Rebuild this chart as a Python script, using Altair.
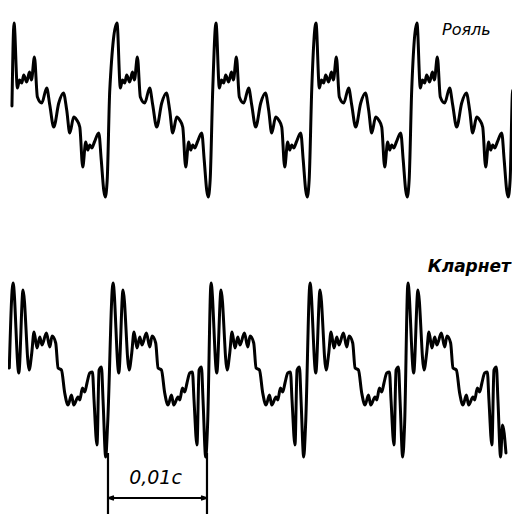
import altair as alt
import pandas as pd

# ---- Рояль (piano): one period (ms after the peak, amplitude)
piano_t = [0, 0.34, 0.55, 0.78, 0.98, 1.28, 1.56, 1.76, 2.06, 2.36, 2.80, 3.30,
           3.61, 4.01, 4.52, 4.99, 5.32, 5.63, 6.03, 6.33, 6.64, 6.94, 7.24, 7.44,
           7.65, 7.85, 8.12, 8.56, 8.81, 9.06, 9.21, 9.41, 9.67]
piano_a = [87, 22, 30, 27, 35, 28, 38, 30, 53, 13, 7, 22,
           5, -17, 7, 17, 0, -23, -7, -10, -17, -57, -32, -40,
           -35, -38, -32, -23, -50, -80, -87, -70, 20]
piano_peaks = [0.61, 11.01, 21.01, 31.11, 41.31]   # ms
piano_first = (0.40, 4)
piano_last = (51.2, 10)

# ---- Кларнет (clarinet): one period
clar_t = [0, 0.58, 1.01, 1.62, 1.89, 2.12, 2.42, 2.70, 2.93, 3.37, 3.71, 3.94,
          4.31, 4.55, 4.89, 5.22, 5.56, 5.90, 6.13, 6.57, 6.74, 7.01, 7.24, 7.47,
          7.75, 8.02, 8.18, 8.48, 8.69, 8.93, 9.09, 9.36, 9.55]
clar_a = [82, -8, 75, -5, 12, 33, 17, 28, 20, 32, 18, 29,
          22, -3, -5, -28, -40, -30, -40, -32, -35, -23, -27, -18,
          -8, -7, -35, -80, -5, -2, -35, -92, -60]
clar_peaks = [0.51, 10.61, 20.51, 30.51, 40.40]    # ms
clar_first = (0.13, -3)
clar_last = (50.3, -88)

# 0,01 s marker
marker_t = [10.1, 20.1]


def build(first, peaks, ts, amps, last):
    rows = [first]
    for p in peaks:
        rows += [(p + t, a) for t, a in zip(ts, amps)]
    rows.append(last)
    return pd.DataFrame({"t": [r[0] for r in rows], "a": [r[1] for r in rows],
                         "i": list(range(len(rows)))})


piano_df = build(piano_first, piano_peaks, piano_t, piano_a, piano_last)
clar_df = build(clar_first, clar_peaks, clar_t, clar_a, clar_last)

xs = alt.Scale(domain=[0, 50.91], nice=False, zero=False)
ys_p = alt.Scale(domain=[-120, 102], nice=False, zero=False)
ys_c = alt.Scale(domain=[-149, 135], nice=False, zero=False)

line_style = dict(color="black", strokeWidth=3, strokeJoin="round",
                  strokeCap="round", clip=True, interpolate="monotone")
text_style = dict(font="DejaVu Sans", fontStyle="italic", color="black")


def wave(df, ys):
    return alt.Chart(df).mark_line(**line_style).encode(
        x=alt.X("t:Q", scale=xs, axis=None),
        y=alt.Y("a:Q", scale=ys, axis=None),
        order="i:Q",
    )


def label(txt, t, a, ys, size, weight="normal", align="center"):
    return alt.Chart(pd.DataFrame({"t": [t], "a": [a], "s": [txt]})).mark_text(
        fontSize=size, fontWeight=weight, align=align, **text_style).encode(
        x=alt.X("t:Q", scale=xs, axis=None),
        y=alt.Y("a:Q", scale=ys, axis=None),
        text="s:N",
    )


top = alt.layer(
    wave(piano_df, ys_p),
    label("Рояль", 46.3, 80, ys_p, 16),
).properties(width=504, height=222)

mk = pd.DataFrame({"t": marker_t, "y1": [-88, -88], "y2": [-149, -149]})
dims = alt.Chart(mk).mark_rule(color="black", strokeWidth=2.2, clip=True).encode(
    x=alt.X("t:Q", scale=xs, axis=None),
    y=alt.Y("y1:Q", scale=ys_c, axis=None),
    y2="y2:Q",
)
arrow_df = pd.DataFrame({"t": [marker_t[0]], "t2": [marker_t[1]], "a": [-133]})
arrow = alt.Chart(arrow_df).mark_rule(color="black", strokeWidth=1.8).encode(
    x=alt.X("t:Q", scale=xs, axis=None), x2="t2:Q",
    y=alt.Y("a:Q", scale=ys_c, axis=None),
)
heads_df = pd.DataFrame({"t": marker_t, "a": [-133, -133], "side": ["l", "r"]})
head_l = alt.Chart(heads_df[heads_df.side == "l"]).mark_point(
    shape="M0,0L2,-0.6M0,0L2,0.6", size=36, filled=False, color="black",
    strokeWidth=1.8, opacity=1).encode(
    x=alt.X("t:Q", scale=xs, axis=None), y=alt.Y("a:Q", scale=ys_c, axis=None))
head_r = alt.Chart(heads_df[heads_df.side == "r"]).mark_point(
    shape="M0,0L-2,-0.6M0,0L-2,0.6", size=36, filled=False, color="black",
    strokeWidth=1.8, opacity=1).encode(
    x=alt.X("t:Q", scale=xs, axis=None), y=alt.Y("a:Q", scale=ys_c, axis=None))

bottom = alt.layer(
    wave(clar_df, ys_c),
    label("Кларнет", 50.8, 98, ys_c, 17, "bold", "right"),
    dims, arrow, head_l, head_r,
    label("0,01c", 14.9, -113, ys_c, 19),
).properties(width=504, height=284)

chart = alt.vconcat(top, bottom, spacing=0).properties(
    padding=0, background="white"
).configure_view(stroke=None)

chart.save("out.html", embed_options={"renderer": "svg", "actions": False})
